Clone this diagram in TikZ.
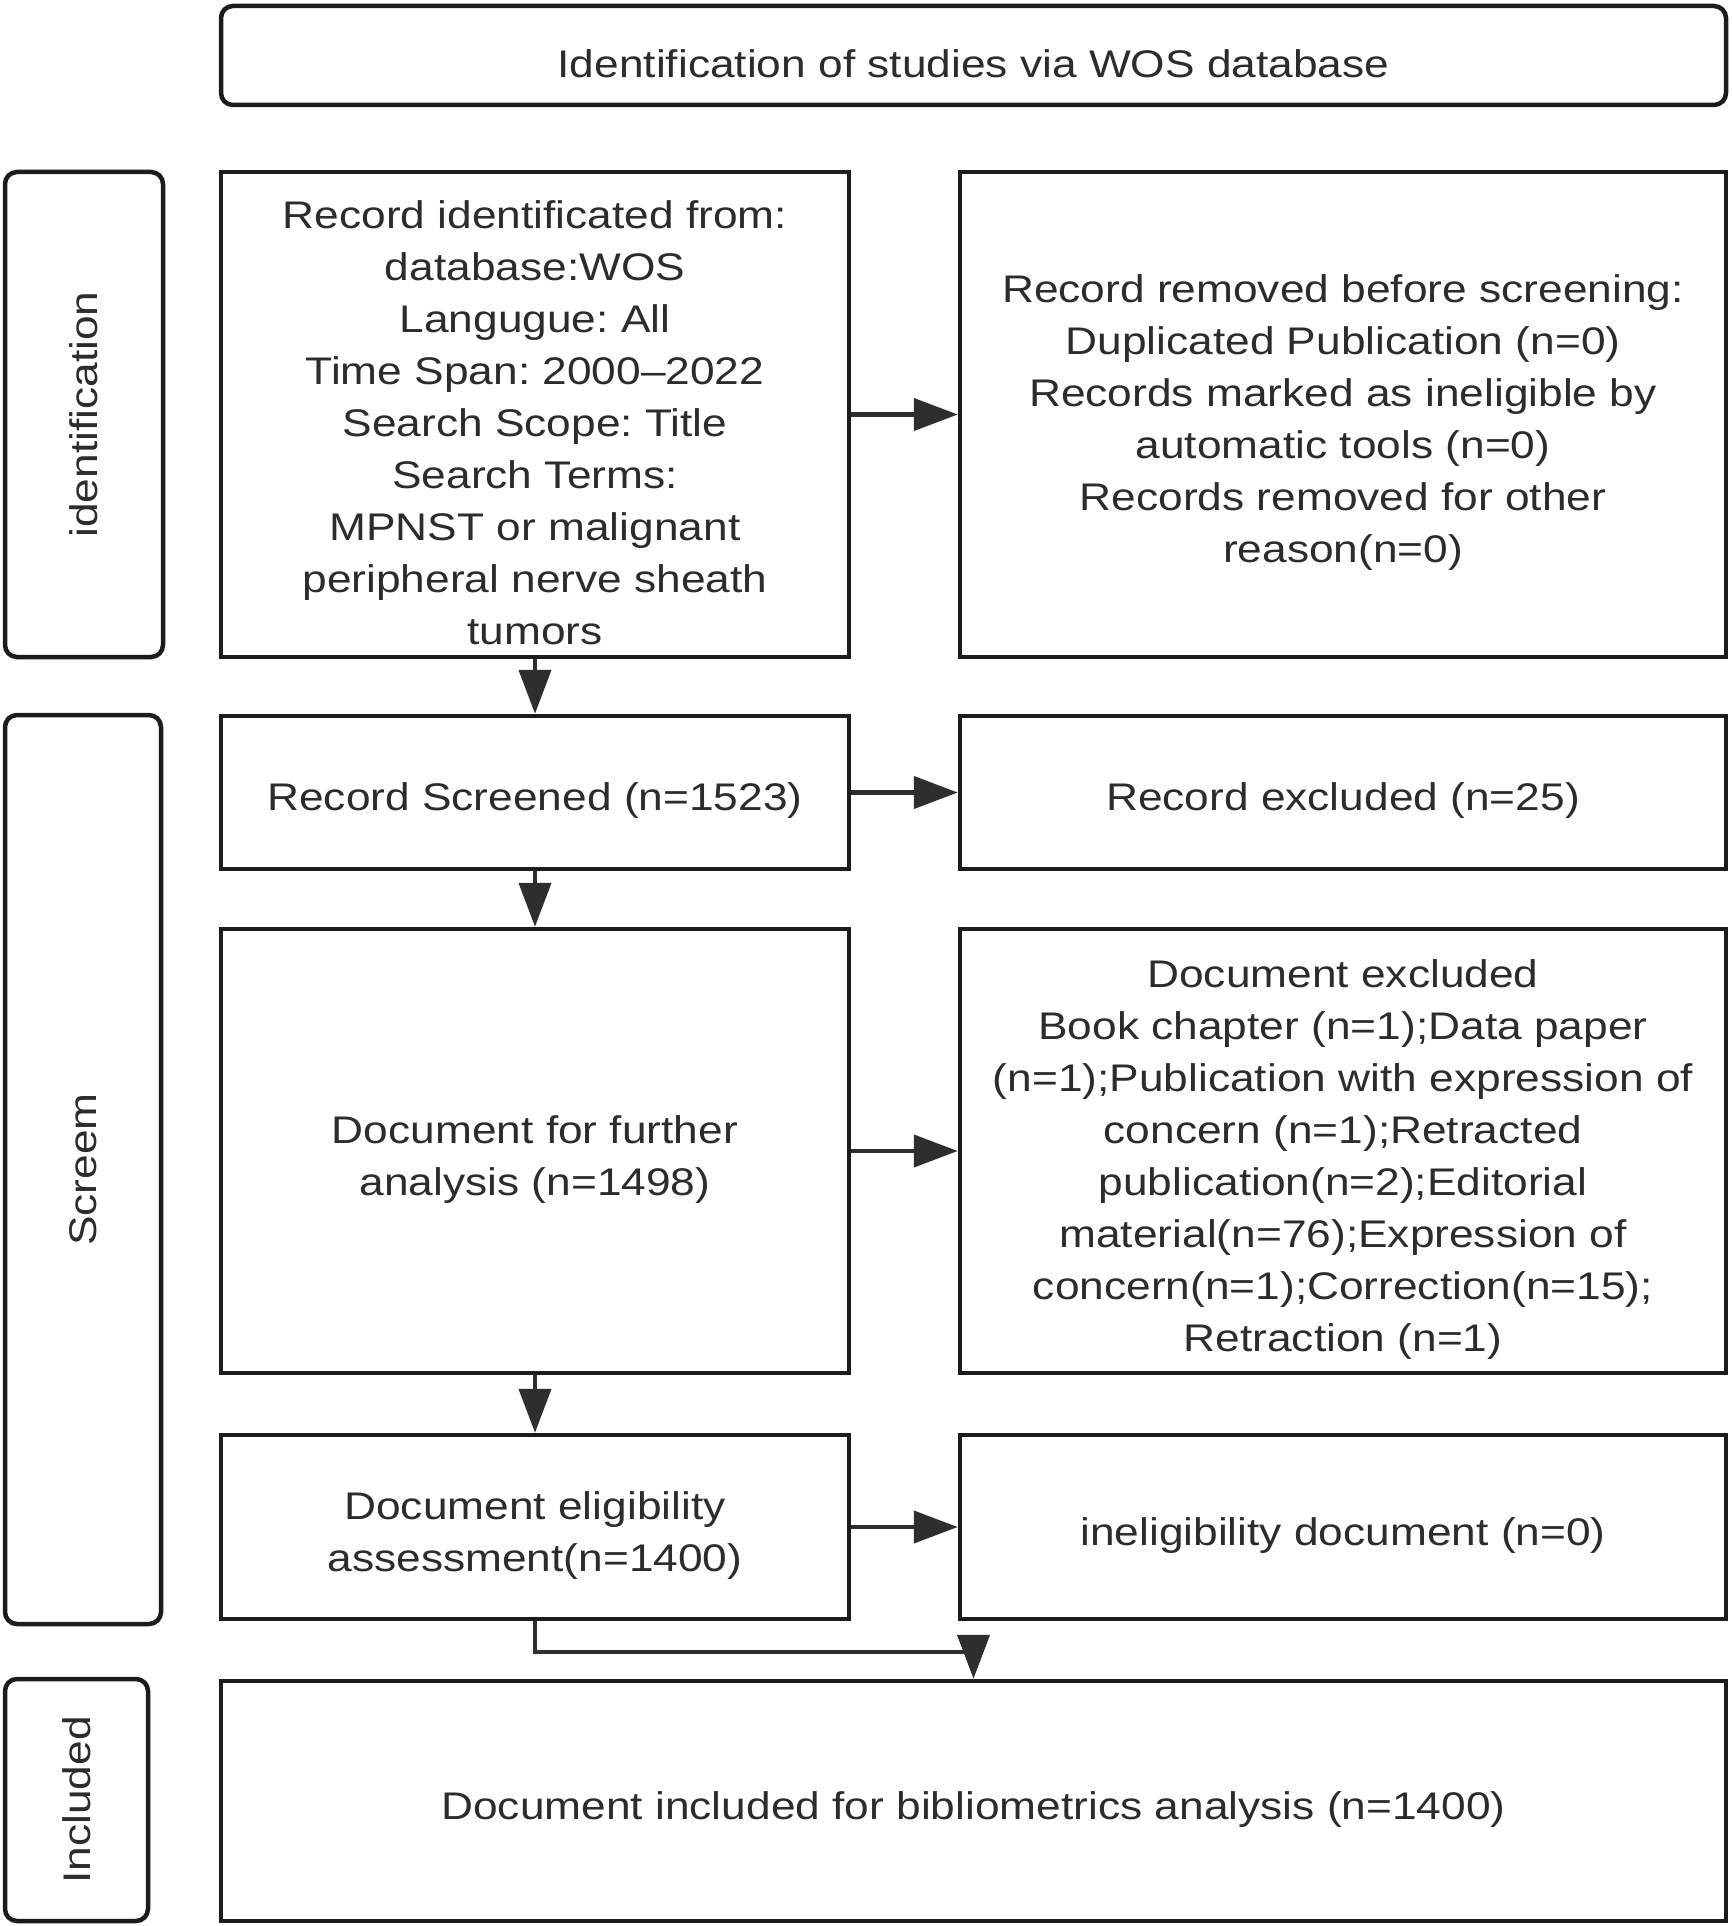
\documentclass[tikz,border=0pt]{standalone}
\usepackage{fontspec}
\setmainfont{Liberation Sans}[FakeStretch=1.15]
\usetikzlibrary{arrows.meta,calc}
\definecolor{lc}{HTML}{1C1C1C}
\definecolor{ac}{HTML}{2E2E2E}
\definecolor{tc}{HTML}{2C2C2C}
\newcommand\tup{\rule{0pt}{22pt}}
\frenchspacing
\begin{document}
\begin{tikzpicture}[x=0.5pt,y=-0.5pt,
  every node/.style={text=tc,font=\fontsize{19.25pt}{26pt}\selectfont\frenchspacing},
  box/.style={draw=lc,line width=2.25pt,inner sep=0pt,align=center,minimum width=#1},
  box/.default=314pt,
  lbox/.style={draw=lc,line width=2.25pt,inner sep=0pt,rounded corners=6pt,minimum width=#1},
  arr/.style={draw=ac,line width=2.1pt,-{Triangle[length=22pt,width=16pt]}}]
\useasboundingbox (0,0) rectangle (1732,1926);
% header
\node[box=752.5pt,rounded corners=6pt,minimum height=49.5pt] (top) at (973.5,55.5) {\tup Identification of studies via WOS database};
% phase labels
\node[lbox=79pt,minimum height=242.5pt] (labid) at (84,414.5) {\rotatebox{90}{identification}};
\node[lbox=78pt,minimum height=454.5pt] (labscr) at (83,1169.5) {\rotatebox{90}{Screem}};
\node[lbox=71.5pt,minimum height=121pt] (labinc) at (76.5,1800) {\rotatebox{90}{Included}};
% left column
\node[box,minimum height=242.5pt] (b1) at (535,414.5) {\tup Record identificated from:\\database:WOS\\Langugue: All\\Time Span: 2000–2022\\Search Scope: Title\\Search Terms:\\MPNST or malignant\\peripheral nerve sheath\\tumors};
\node[box,minimum height=76.5pt] (b2) at (535,792.5) {\tup Record Screened (n=1523)};
\node[box,minimum height=222pt] (b3) at (535,1151) {\tup Document for further\\analysis (n=1498)};
\node[box,minimum height=92pt] (b4) at (535,1527) {\tup Document eligibility\\assessment(n=1400)};
% right column
\node[box=383pt,minimum height=242.5pt] (r1) at (1343,414.5) {\tup Record removed before screening:\\Duplicated Publication (n=0)\\Records marked as ineligible by\\automatic tools (n=0)\\Records removed for other\\reason(n=0)};
\node[box=383pt,minimum height=76.5pt] (r2) at (1343,792.5) {\tup Record excluded (n=25)};
\node[box=383pt,minimum height=222pt] (r3) at (1343,1151) {\tup Document excluded\\Book chapter (n=1);Data paper\\(n=1);Publication with expression of\\concern (n=1);Retracted\\publication(n=2);Editorial\\material(n=76);Expression of\\concern(n=1);Correction(n=15);\\Retraction (n=1)};
\node[box=383pt,minimum height=92pt] (r4) at (1343,1527) {\tup ineligibility document (n=0)};
% included
\node[box=752.5pt,minimum height=120pt] (b5) at (973.5,1801) {\tup Document included for bibliometrics analysis (n=1400)};
% connectors
\draw[arr] (b1.south) -- (b2.north);
\draw[arr] (b2.south) -- (b3.north);
\draw[arr] (b3.south) -- (b4.north);
\draw[arr] (b1.east) -- (r1.west);
\draw[arr] (b2.east) -- (r2.west);
\draw[arr] (b3.east) -- (r3.west);
\draw[arr] (b4.east) -- (r4.west);
\draw[arr] (b4.south) -- ++(0,31) -| (b5.north);
\end{tikzpicture}
\end{document}
